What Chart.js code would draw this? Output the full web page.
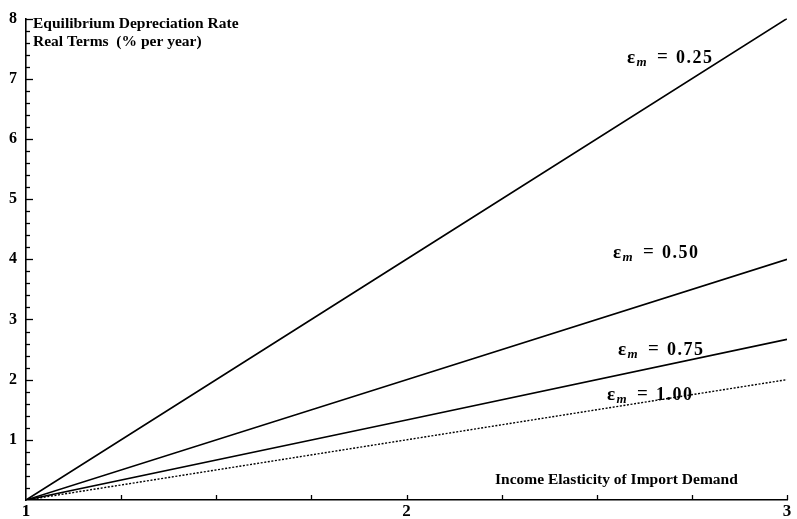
<!DOCTYPE html>
<html>
<head>
<meta charset="utf-8">
<script src="https://cdn.jsdelivr.net/npm/chart.js@4/dist/chart.umd.min.js"></script>
<style>
  html, body { margin: 0; padding: 0; background: #fff; }
  #wrap { width: 797px; height: 519px; position: relative; }
</style>
</head>
<body>
<div id="wrap"><canvas id="c" width="797" height="519"></canvas></div>
<script>
// Income elasticity of import demand (x)
const xValues = [1, 2, 3];
// Equilibrium depreciation rate, real terms (% per year), per price elasticity
const eps025 = [0, 4, 8];
const eps050 = [0, 2, 4];
const eps075 = [0, 1.33, 2.67];
const eps100 = [0, 1, 2];
const seriesNames = ['0.25', '0.50', '0.75', '1.00'];
const xTickLabels = ['1', '2', '3'];
const yTickLabels = ['1', '2', '3', '4', '5', '6', '7', '8'];

const SERIF = '"Liberation Serif", "DejaVu Serif", serif';

function pts(ys) { return xValues.map((x, i) => ({ x: x, y: ys[i] })); }

// label anchors in data units (x = left edge, y = vertical centre)
const labelPos = [
  { name: seriesNames[0], x: 2.5795, y: 7.37 },
  { name: seriesNames[1], x: 2.5427, y: 4.123 },
  { name: seriesNames[2], x: 2.5558, y: 2.503 },
  { name: seriesNames[3], x: 2.527, y: 1.767 }
];

const decor = {
  id: 'decor',
  afterDraw(chart) {
    const ctx = chart.ctx;
    const xs = chart.scales.x, ys = chart.scales.y;
    const y0 = ys.getPixelForValue(0);
    const x0 = xs.getPixelForValue(1);
    ctx.save();
    ctx.strokeStyle = '#000';
    ctx.lineWidth = 1.3;
    // x ticks (inward)
    for (let v = 1.25; v <= 3.0001; v += 0.25) {
      const px = Math.round(xs.getPixelForValue(v)) + 0.5;
      ctx.beginPath(); ctx.moveTo(px, y0); ctx.lineTo(px, y0 - 5); ctx.stroke();
    }
    // y ticks (inward)
    for (let i = 1; i <= 40; i++) {
      const v = i * 0.2;
      const py = Math.round(ys.getPixelForValue(v)) + 0.5;
      const major = i % 5 === 0;
      ctx.beginPath(); ctx.moveTo(x0, py); ctx.lineTo(x0 + (major ? 7 : 4), py); ctx.stroke();
    }
    // axis title texts
    ctx.fillStyle = '#000';
    ctx.font = 'bold 15.5px ' + SERIF;
    ctx.textBaseline = 'alphabetic';
    ctx.textAlign = 'left';
    ctx.fillText('Equilibrium Depreciation Rate', 33, 28);
    ctx.fillText('Real Terms  (% per year)', 33, 46);
    ctx.fillText('Income Elasticity of Import Demand', 495, 484);
    // series labels
    labelPos.forEach(l => {
      const px = xs.getPixelForValue(l.x);
      const base = ys.getPixelForValue(l.y) + 6;
      ctx.letterSpacing = '0px';
      ctx.font = 'bold 19px ' + SERIF;
      ctx.fillText('\u03b5', px, base);
      ctx.font = 'bold italic 13px ' + SERIF;
      ctx.fillText('m', px + 9.5, base + 3);
      ctx.font = 'bold 19px ' + SERIF;
      ctx.fillText('=', px + 30, base - 1);
      ctx.font = 'bold 18px ' + SERIF;
      ctx.letterSpacing = '1.5px';
      ctx.fillText(l.name, px + 49, base);
      ctx.letterSpacing = '0px';
    });
    ctx.restore();
  }
};

new Chart(document.getElementById('c'), {
  type: 'line',
  data: {
    datasets: [
      { label: seriesNames[0], data: pts(eps025), borderColor: '#000', borderWidth: 1.7, pointRadius: 0, fill: false, tension: 0 },
      { label: seriesNames[1], data: pts(eps050), borderColor: '#000', borderWidth: 1.6, pointRadius: 0, fill: false, tension: 0 },
      { label: seriesNames[2], data: pts(eps075), borderColor: '#000', borderWidth: 1.7, pointRadius: 0, fill: false, tension: 0 },
      { label: seriesNames[3], data: pts(eps100), borderColor: '#000', borderWidth: 1.4, borderDash: [2, 1.6], pointRadius: 0, fill: false, tension: 0 }
    ]
  },
  options: {
    responsive: false,
    animation: false,
    events: [],
    layout: { padding: { top: 11, right: 10, left: 0, bottom: 0 } },
    plugins: { legend: { display: false }, tooltip: { enabled: false }, title: { display: false } },
    scales: {
      x: {
        type: 'linear', min: 1, max: 3,
        afterFit(s) { s.height = 19; },
        grid: { display: false, drawTicks: false },
        border: { display: true, color: '#000', width: 1.6 },
        ticks: {
          stepSize: 1, padding: 1, color: '#000',
          font: { family: SERIF, size: 17, weight: 'bold' },
          callback: (v) => { const i = Math.round(v) - 1; return Math.abs(v - Math.round(v)) < 1e-9 ? xTickLabels[i] : ''; }
        }
      },
      y: {
        type: 'linear', min: 0, max: 8,
        afterFit(s) { s.width = 26; },
        grid: { display: false, drawTicks: false },
        border: { display: true, color: '#000', width: 1.6 },
        ticks: {
          stepSize: 1, padding: 9, color: '#000',
          font: { family: SERIF, size: 16, weight: 'bold' },
          callback: (v) => (v >= 1 && Math.abs(v - Math.round(v)) < 1e-9) ? yTickLabels[Math.round(v) - 1] : ''
        }
      }
    }
  },
  plugins: [decor]
});
</script>
</body>
</html>
